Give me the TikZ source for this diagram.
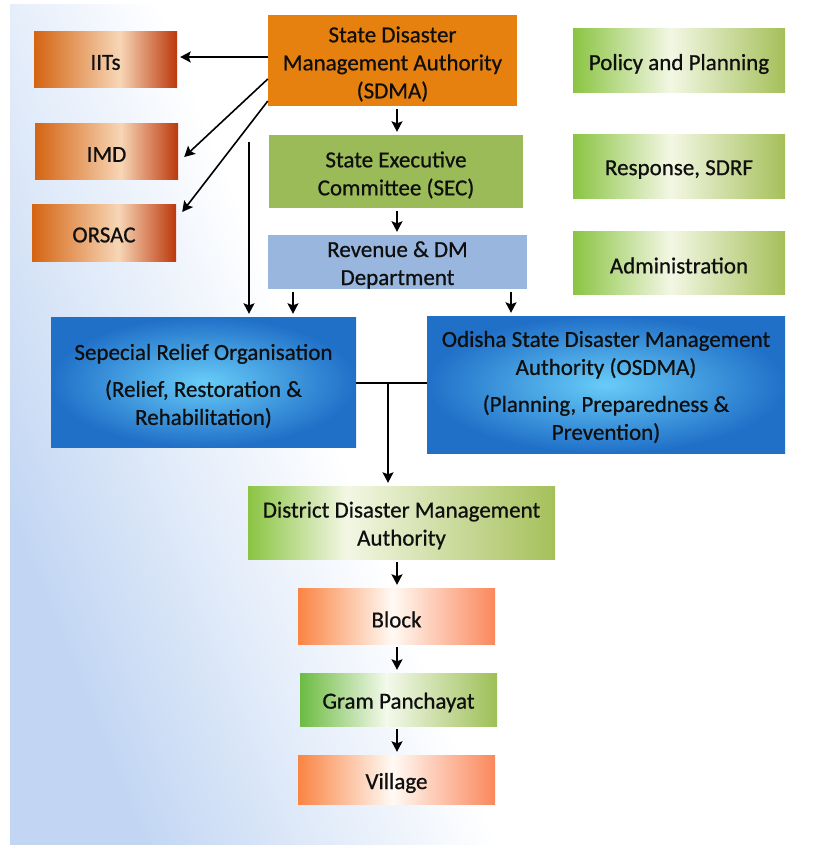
\documentclass[tikz,border=0pt]{standalone}
\usepackage{fontspec}
\setmainfont{Carlito}
\newfontfamily\heavyfont{Carlito}[FakeBold=0.7]
\usetikzlibrary{arrows.meta}
\definecolor{bgblue}{RGB}{194,214,243}
\definecolor{sdmaor}{RGB}{230,128,14}
\definecolor{orL}{RGB}{212,100,18}
\definecolor{orM}{RGB}{247,214,182}
\definecolor{orR}{RGB}{188,56,12}
\definecolor{secgreen}{RGB}{155,187,89}
\definecolor{revblue}{RGB}{152,182,222}
\definecolor{grL}{RGB}{138,196,66}
\definecolor{grM}{RGB}{243,247,228}
\definecolor{grR}{RGB}{165,192,90}
\definecolor{bluein}{RGB}{104,204,248}
\definecolor{blueout}{RGB}{32,112,200}
\definecolor{pkL}{RGB}{250,132,68}
\definecolor{pkM}{RGB}{255,250,244}
\definecolor{pkR}{RGB}{250,135,92}
\definecolor{gpL}{RGB}{108,187,66}
\definecolor{gpM}{RGB}{244,249,236}
\definecolor{gpR}{RGB}{157,191,86}
\definecolor{txt}{RGB}{15,15,15}
\pgfdeclarehorizontalshading{orsh}{100bp}{color(0bp)=(orL); color(25bp)=(orL); color(55bp)=(orM); color(75bp)=(orR); color(100bp)=(orR)}
\pgfdeclarehorizontalshading{grsh}{100bp}{color(0bp)=(grL); color(25bp)=(grL); color(48bp)=(grM); color(75bp)=(grR); color(100bp)=(grR)}
\pgfdeclarehorizontalshading{ddsh}{100bp}{color(0bp)=(grL); color(25bp)=(grL); color(41bp)=(grM); color(75bp)=(grR); color(100bp)=(grR)}
\pgfdeclarehorizontalshading{pksh}{100bp}{color(0bp)=(pkL); color(25bp)=(pkL); color(49bp)=(pkM); color(75bp)=(pkR); color(100bp)=(pkR)}
\pgfdeclarehorizontalshading{gpsh}{100bp}{color(0bp)=(gpL); color(25bp)=(gpL); color(47bp)=(gpM); color(75bp)=(gpR); color(100bp)=(gpR)}
\pgfdeclarehorizontalshading{bgsh}{100bp}{color(0bp)=(bgblue); color(25bp)=(bgblue); color(45bp)=(white); color(100bp)=(white)}
\begin{document}
\begin{tikzpicture}[x=1pt,y=-1pt,
  bx/.style={rectangle, inner sep=0pt},
  tx/.style={inner sep=0pt, align=center, text=txt,
    font=\heavyfont\fontsize{23}{28}\selectfont},
  orgrad/.style={bx, shading=orsh},
  grgrad/.style={bx, shading=grsh},
  ddgrad/.style={bx, shading=ddsh},
  bluerad/.style={bx, inner color=bluein, outer color=blueout},
  pkgrad/.style={bx, shading=pksh},
  gpgrad/.style={bx, shading=gpsh},
  arr/.style={line width=1.6pt, draw=black, -{Stealth[length=10.5pt,width=11pt,inset=2pt]}},
  ln/.style={line width=1.6pt, draw=black}]
\useasboundingbox (0,0) rectangle (826,845);
\fill[white] (0,0) rectangle (826,845);
\shade[shading=bgsh, shading angle=22] (10,5) rectangle (826,845);

% boxes
\node[bx, fill=sdmaor, minimum width=249pt, minimum height=91pt] (sdma) at (392.5,60.5) {};
\node[orgrad, minimum width=143pt, minimum height=56pt] (iits) at (105.5,60) {};
\node[orgrad, minimum width=143pt, minimum height=56pt] (imd) at (106.5,152) {};
\node[orgrad, minimum width=144pt, minimum height=57pt] (orsac) at (104,232.5) {};
\node[bx, fill=secgreen, minimum width=254pt, minimum height=73pt] (sec) at (396,171.5) {};
\node[bx, fill=revblue, minimum width=259pt, minimum height=54pt] (rev) at (397.5,262) {};
\node[grgrad, minimum width=212pt, minimum height=64pt] (policy) at (679,61) {};
\node[grgrad, minimum width=212pt, minimum height=63pt] (resp) at (679,166.5) {};
\node[grgrad, minimum width=212pt, minimum height=63pt] (admin) at (679,262.5) {};
\node[bluerad, minimum width=305pt, minimum height=130pt] (sro) at (203.5,382) {};
\node[bluerad, minimum width=358pt, minimum height=137pt] (osdma) at (606,384.5) {};
\node[ddgrad, minimum width=307pt, minimum height=73pt] (ddma) at (401.5,522.5) {};
\node[pkgrad, minimum width=197pt, minimum height=56pt] (block) at (396.5,616) {};
\node[gpgrad, minimum width=197pt, minimum height=53pt] (gram) at (398.5,699.5) {};
\node[pkgrad, minimum width=197pt, minimum height=49pt] (village) at (396.5,779.5) {};

% texts
\node[tx] (sdma-t) at ([yshift=-3.5pt]sdma.center) {State Disaster\\Management Authority\\(SDMA)};
\node[tx] (iits-t) at ([yshift=-2.5pt]iits.center) {IITs};
\node[tx] (imd-t) at ([yshift=-2.5pt]imd.center) {IMD};
\node[tx] (orsac-t) at ([yshift=-2.5pt]orsac.center) {ORSAC};
\node[tx] (sec-t) at ([yshift=-3.5pt]sec.center) {State Executive\\Committee (SEC)};
\node[tx] (rev-t) at ([yshift=-3pt]rev.center) {Revenue \& DM\\Department};
\node[tx] (policy-t) at ([yshift=-3pt]policy.center) {Policy and Planning};
\node[tx] (resp-t) at ([yshift=-3pt]resp.center) {Response, SDRF};
\node[tx] (admin-t) at ([yshift=-3pt]admin.center) {Administration};
\node[tx] (sro-t) at ([yshift=-4pt]sro.center) {Sepecial Relief Organisation\\[9pt](Relief, Restoration \&\\Rehabilitation)};
\node[tx] (osdma-t) at ([yshift=-2.5pt]osdma.center) {Odisha State Disaster Management\\Authority (OSDMA)\\[9pt](Planning, Preparedness \&\\Prevention)};
\node[tx] (ddma-t) at ([yshift=-3pt]ddma.center) {District Disaster Management\\Authority};
\node[tx] (block-t) at ([yshift=-3.5pt]block.center) {Block};
\node[tx] (gram-t) at ([yshift=-3pt]gram.center) {Gram Panchayat};
\node[tx] (village-t) at ([yshift=-3.5pt]village.center) {Village};

% helper coordinates
\coordinate (xmain) at (397,0);
\coordinate (xsro) at (293,0);
\coordinate (xos) at (511,0);
\coordinate (ylong) at (249,142);
\coordinate (yiit) at (0,57);
\coordinate (xjoin) at (388,383);

% connectors
\draw[arr, shorten <=3pt, shorten >=3pt] (sdma.south -| xmain) -- (sec.north -| xmain);
\draw[arr, shorten <=3pt, shorten >=3pt] (sec.south -| xmain) -- (rev.north -| xmain);
\draw[arr, shorten <=3pt, shorten >=3pt] (rev.south -| xsro) -- (sro.north -| xsro);
\draw[arr, shorten <=3pt, shorten >=3pt] (rev.south -| xos) -- (osdma.north -| xos);
\draw[arr, shorten >=3pt] (ylong) -- (sro.north -| ylong);
\draw[arr, shorten >=3pt] (sdma.west |- yiit) -- (iits.east |- yiit);
\draw[arr] ([yshift=-18.5pt]sdma.west) -- ([xshift=6pt,yshift=-5pt]imd.east);
\draw[arr] ([yshift=-40.5pt]sdma.west) -- ([xshift=6pt,yshift=20.5pt]orsac.east);
\draw[ln] (sro.east |- xjoin) -- (osdma.west |- xjoin);
\draw[arr, shorten >=3pt] (xjoin) -- (ddma.north -| xjoin);
\draw[arr, shorten <=3pt, shorten >=3pt] (ddma.south -| xmain) -- (block.north -| xmain);
\draw[arr, shorten <=3pt, shorten >=3pt] (block.south -| xmain) -- (gram.north -| xmain);
\draw[arr, shorten <=3pt, shorten >=3pt] (gram.south -| xmain) -- (village.north -| xmain);
\end{tikzpicture}
\end{document}
